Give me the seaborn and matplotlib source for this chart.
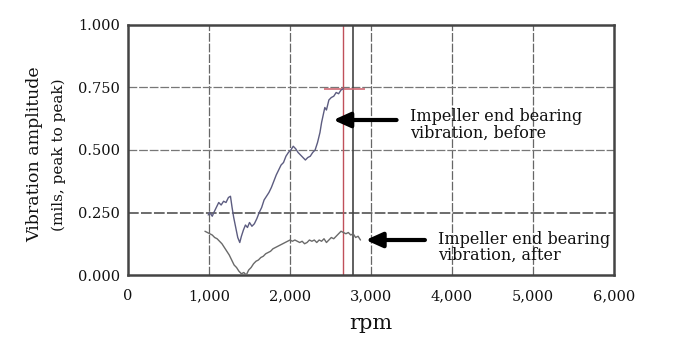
import pandas as pd
import matplotlib.pyplot as plt
import seaborn as sns

# readings taken off the chart
before_rpm = [990, 1010, 1040, 1060, 1090, 1120, 1150, 1180, 1210, 1240, 1265, 1285, 1305, 1330, 1355,
              1380, 1400, 1425, 1450, 1475, 1500, 1530, 1560, 1590, 1620, 1650, 1680, 1710, 1740, 1770,
              1800, 1830, 1860, 1890, 1920, 1950, 1980, 2010, 2040, 2070, 2100, 2130, 2160, 2190, 2220,
              2250, 2280, 2310, 2340, 2370, 2390, 2410, 2430, 2450, 2480, 2510, 2540, 2570, 2600, 2630, 2660]
before_amp = [0.24, 0.25, 0.235, 0.25, 0.27, 0.29, 0.28, 0.295, 0.29, 0.31, 0.315, 0.27, 0.23, 0.19, 0.15,
              0.13, 0.155, 0.18, 0.20, 0.19, 0.21, 0.195, 0.205, 0.225, 0.25, 0.27, 0.30, 0.315, 0.33, 0.35,
              0.375, 0.40, 0.42, 0.44, 0.45, 0.475, 0.49, 0.50, 0.515, 0.505, 0.49, 0.48, 0.47, 0.46, 0.47,
              0.475, 0.49, 0.50, 0.53, 0.57, 0.61, 0.64, 0.67, 0.66, 0.70, 0.71, 0.715, 0.73, 0.725, 0.74, 0.745]

after_rpm = [950, 980, 1010, 1040, 1070, 1100, 1130, 1160, 1190, 1220, 1250, 1280, 1310, 1340, 1370,
             1400, 1430, 1460, 1490, 1520, 1550, 1580, 1610, 1640, 1670, 1700, 1730, 1760, 1790, 1820,
             1850, 1880, 1910, 1940, 1970, 2000, 2030, 2060, 2090, 2120, 2150, 2180, 2210, 2240, 2270,
             2300, 2330, 2360, 2390, 2420, 2450, 2480, 2510, 2540, 2570, 2600, 2630, 2660, 2690, 2720,
             2750, 2780, 2810, 2840, 2870]
after_amp = [0.175, 0.17, 0.165, 0.16, 0.15, 0.145, 0.135, 0.125, 0.11, 0.095, 0.08, 0.06, 0.04, 0.03, 0.015,
             0.005, 0.01, 0.0, 0.02, 0.03, 0.045, 0.055, 0.06, 0.07, 0.075, 0.085, 0.09, 0.095, 0.105, 0.11,
             0.115, 0.12, 0.125, 0.13, 0.135, 0.14, 0.135, 0.14, 0.135, 0.13, 0.135, 0.125, 0.13, 0.14, 0.135,
             0.14, 0.13, 0.14, 0.135, 0.145, 0.13, 0.14, 0.15, 0.145, 0.155, 0.165, 0.175, 0.17, 0.165, 0.17,
             0.16, 0.165, 0.15, 0.155, 0.14]

x_ticks = [0, 1000, 2000, 3000, 4000, 5000, 6000]
x_tick_labels = ['0', '1,000', '2,000', '3,000', '4,000', '5,000', '6,000']
y_ticks = [0.0, 0.25, 0.5, 0.75, 1.0]
y_tick_labels = ['0.000', '0.250', '0.500', '0.750', '1.000']

marker_rpm = 2660      # red vertical cursor
cursor_rpm = 2775      # dark vertical cursor
cursor_amp = 0.745
cursor_span = [2420, 2920]

before_df = pd.DataFrame({'rpm': before_rpm, 'amp': before_amp})
after_df = pd.DataFrame({'rpm': after_rpm, 'amp': after_amp})

sns.set_style('white')
plt.rcParams['font.family'] = ['DejaVu Serif']

fig = plt.figure(figsize=(6.93, 3.51), dpi=100)
ax = fig.add_axes([0.1847, 0.2165, 0.7013, 0.7123])

# grid
for x in [1000, 2000, 3000, 4000, 5000]:
    ax.axvline(x, color='#666666', lw=0.9, ls=(0, (7, 1.5)), zorder=1)
for y in [0.25, 0.5, 0.75]:
    ax.axhline(y, color='#444444' if y == 0.25 else '#777777', lw=1.1 if y == 0.25 else 0.9,
               ls=(0, (7, 1.5)), zorder=1)
ax.axvline(cursor_rpm, color='#444444', lw=1.2, zorder=1)
ax.axvline(marker_rpm, color='#c0505a', lw=1.0, zorder=2)
ax.hlines(cursor_amp, cursor_span[0], cursor_span[1], color='#d06a74', lw=1.2, zorder=2)

sns.lineplot(data=before_df, x='rpm', y='amp', ax=ax, color='#5c5c80', lw=1.0, zorder=3)
sns.lineplot(data=after_df, x='rpm', y='amp', ax=ax, color='#6a6a6a', lw=1.0, zorder=3)

ax.set_xlim(0, 6000)
ax.set_ylim(0, 1.0)
ax.set_xticks(x_ticks)
ax.set_xticklabels(x_tick_labels)
ax.set_yticks(y_ticks)
ax.set_yticklabels(y_tick_labels)
ax.tick_params(length=0, labelsize=10.5, colors='#111111')
ax.tick_params(axis='x', pad=10)
ax.tick_params(axis='y', pad=6)
ax.set_xlabel('rpm', fontsize=15, labelpad=8, color='#111111')
ax.set_ylabel('')
for s in ax.spines.values():
    s.set_color('#444444')
    s.set_linewidth(1.8)

fig.text(0.050, 0.56, 'Vibration amplitude', rotation=90, ha='center', va='center',
         fontsize=12.5, color='#111111')
fig.text(0.085, 0.56, '(mils, peak to peak)', rotation=90, ha='center', va='center',
         fontsize=11, color='#111111')

arrow = dict(arrowstyle='-|>,head_width=0.45,head_length=1.0', color='black', lw=3)
ax.annotate('', xy=(2500, 0.62), xytext=(3350, 0.62), arrowprops=arrow)
ax.text(3480, 0.60, 'Impeller end bearing\nvibration, before', fontsize=11.5, va='center',
        ha='left', linespacing=0.95, color='#111111')
ax.annotate('', xy=(2900, 0.14), xytext=(3700, 0.14), arrowprops=arrow)
ax.text(3830, 0.11, 'Impeller end bearing\nvibration, after', fontsize=11.5, va='center',
        ha='left', linespacing=0.95, color='#111111')

fig.savefig('out.png', dpi=100, facecolor='white')
